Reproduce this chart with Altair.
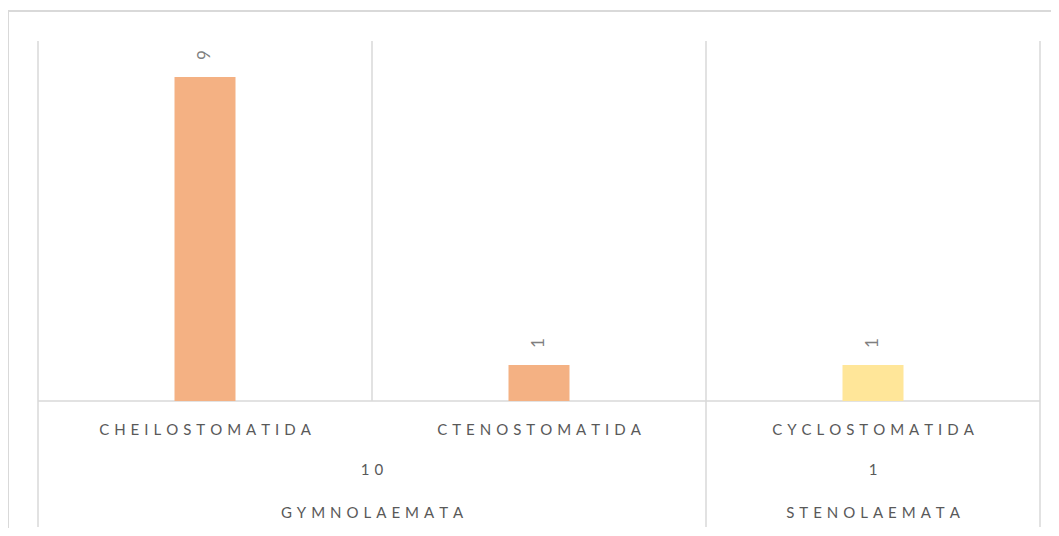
import altair as alt
import pandas as pd

categories = ["CHEILOSTOMATIDA", "CTENOSTOMATIDA", "CYCLOSTOMATIDA"]
groups = ["GYMNOLAEMATA", "GYMNOLAEMATA", "STENOLAEMATA"]
values = [9, 1, 1]
colors = ["#F4B183", "#F4B183", "#FFE699"]

SP = "\u2004"
def spaced(s):
    return SP.join(list(str(s)))

FONT = "Lato"
TXT = "#595959"
GRID = "#D9D9D9"

bars = pd.DataFrame({
    "cat": categories,
    "label": [spaced(c) for c in categories],
    "group": groups,
    "value": values,
    "color": colors,
    "pos": [i + 0.5 for i in range(len(categories))],
})

grp_rows = []
for g in dict.fromkeys(groups):
    sub = bars[bars["group"] == g]
    grp_rows.append({
        "group": g,
        "gname": spaced(g),
        "total": spaced(int(sub["value"].sum())),
        "center": float(sub["pos"].mean()),
        "start": float(sub["pos"].min() - 0.5),
        "end": float(sub["pos"].max() + 0.5),
    })
grp = pd.DataFrame(grp_rows)

cat_bounds = pd.DataFrame({"b": [float(i) for i in range(len(categories) + 1)]})
grp_bounds = pd.DataFrame({"b": sorted(set(grp["start"]).union(set(grp["end"])))})

W, H = 1002, 360
xs = alt.Scale(domain=[0, len(categories)], nice=False, zero=False, padding=0)
ys = alt.Scale(domain=[0, 10], nice=False, padding=0)

border = alt.Chart(bars).mark_rect(fillOpacity=0, stroke=GRID, strokeWidth=2).encode(
    x=alt.value(-30), x2=alt.value(1045), y=alt.value(-30), y2=alt.value(620)
).transform_filter(alt.datum.pos == 0.5)

cat_lines = alt.Chart(cat_bounds).mark_rule(color=GRID, strokeWidth=1.5).encode(
    x=alt.X("b:Q", scale=xs, axis=None), y=alt.value(0), y2=alt.value(H)
)
grp_lines = alt.Chart(grp_bounds).mark_rule(color=GRID, strokeWidth=1.5).encode(
    x=alt.X("b:Q", scale=xs, axis=None), y=alt.value(H), y2=alt.value(486)
)
baseline = alt.Chart(cat_bounds).mark_rule(color=GRID, strokeWidth=1.5).encode(
    x=alt.value(0), x2=alt.value(W), y=alt.value(H)
).transform_filter(alt.datum.b == 0)

bar = alt.Chart(bars).mark_bar(size=61).encode(
    x=alt.X("pos:Q", scale=xs, axis=None),
    y=alt.Y("value:Q", scale=ys, axis=None),
    color=alt.Color("color:N", scale=None),
)
vlab = alt.Chart(bars).mark_text(angle=270, align="left", baseline="middle",
                                  yOffset=-17, font=FONT, fontSize=17, color="#7F7F7F").encode(
    x=alt.X("pos:Q", scale=xs, axis=None),
    y=alt.Y("value:Q", scale=ys, axis=None),
    text="value:Q",
)
clab = alt.Chart(bars).mark_text(font=FONT, fontSize=15, color=TXT, baseline="middle").encode(
    x=alt.X("pos:Q", scale=xs, axis=None), y=alt.value(389), text="label:N"
)
tlab = alt.Chart(grp).mark_text(font=FONT, fontSize=15, color=TXT, baseline="middle").encode(
    x=alt.X("center:Q", scale=xs, axis=None), y=alt.value(429), text="total:N"
)
glab = alt.Chart(grp).mark_text(font=FONT, fontSize=15, color=TXT, baseline="middle").encode(
    x=alt.X("center:Q", scale=xs, axis=None), y=alt.value(472), text="gname:N"
)

chart = alt.layer(border, cat_lines, grp_lines, baseline, bar, vlab, clab, tlab, glab).properties(
    width=W, height=H,
    autosize=alt.AutoSizeParams(type="none"),
    padding={"left": 30, "top": 33, "right": 11, "bottom": 127},
).configure(background="white", view=alt.ViewConfig(stroke="transparent", strokeWidth=0))

chart.save("out.html", embed_options={"renderer": "svg", "actions": False})
